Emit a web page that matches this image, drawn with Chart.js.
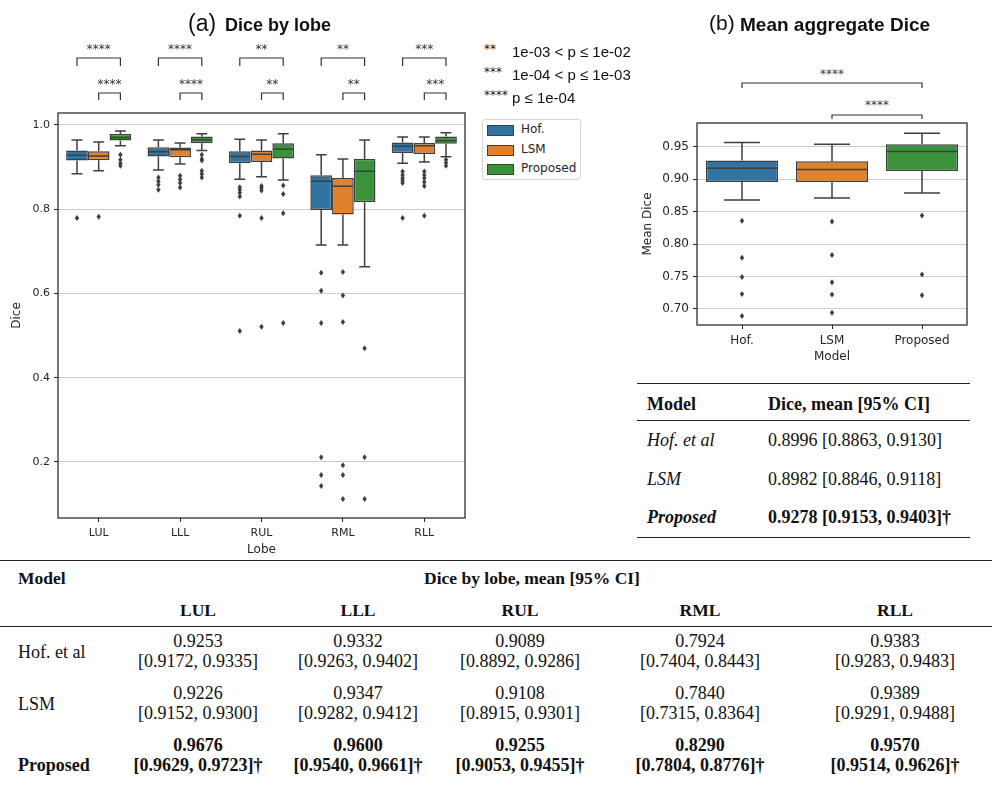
<!DOCTYPE html>
<html>
<head>
<meta charset="utf-8">
<script src="https://cdn.jsdelivr.net/npm/chart.js@4.4.1/dist/chart.umd.min.js"></script>
<style>
    body {margin: 0; background: #fff; width: 992px; height: 789px; position: relative; overflow: hidden; font-family: "Liberation Sans", Arial, sans-serif; color: #111;}
    .txt {position: absolute; white-space: nowrap; line-height: 1.15; color: #111;}
    .rule {position: absolute; height: 0; border-top: 1.4px solid #222;}
    #wrapA {position: absolute; left: 0; top: 0; width: 470px; height: 562px;}
    #wrapB {position: absolute; left: 620px; top: 0; width: 372px; height: 375px;}
    #legend {position: absolute; left: 482px; top: 119px; width: 97px; height: 59px; border: 1px solid #d6d6d6; border-radius: 3px; font-family: "DejaVu Sans", sans-serif; font-size: 12px; color: #262626;}
    .patch {position: absolute; left: 4px; width: 25px; height: 9px; border: 1px solid #3f3f3f;}
</style>
</head>
<body>
<div id="wrapA"><canvas id="chartA"></canvas></div>
<div id="wrapB"><canvas id="chartB"></canvas></div>
<div id="legend"></div>
<div id="texts"></div>
<script>
const lobes = ['LUL', 'LLL', 'RUL', 'RML', 'RLL'];
const models = ['Hof.', 'LSM', 'Proposed'];
const modelColors = ['#3274a1', '#e1812c', '#3a923a'];
const edgeColor = '#3f3f3f';
const axisColor = '#262626';
const tickFont = '"DejaVu Sans", sans-serif';

// (a) box summaries per lobe
const hofLow = [0.884, 0.893, 0.871, 0.715, 0.909];
const hofQ1 = [0.915, 0.925, 0.909, 0.798, 0.933];
const hofMed = [0.928, 0.936, 0.925, 0.866, 0.949];
const hofQ3 = [0.939, 0.947, 0.937, 0.880, 0.958];
const hofHigh = [0.964, 0.964, 0.966, 0.929, 0.971];
const hofOut = [[0.779], [0.875, 0.866, 0.858, 0.846], [0.852, 0.846, 0.839, 0.830, 0.784, 0.511],
    [0.649, 0.606, 0.530, 0.211, 0.169, 0.143], [0.889, 0.881, 0.874, 0.868, 0.862, 0.779]];

const lsmLow = [0.891, 0.907, 0.877, 0.715, 0.912];
const lsmQ1 = [0.916, 0.923, 0.912, 0.787, 0.931];
const lsmMed = [0.926, 0.941, 0.930, 0.854, 0.950];
const lsmQ3 = [0.937, 0.946, 0.939, 0.874, 0.957];
const lsmHigh = [0.959, 0.957, 0.964, 0.919, 0.971];
const lsmOut = [[0.782], [0.879, 0.870, 0.862, 0.851], [0.855, 0.850, 0.844, 0.779, 0.521],
    [0.651, 0.595, 0.532, 0.192, 0.169, 0.112], [0.889, 0.881, 0.874, 0.864, 0.855, 0.784]];

const propLow = [0.950, 0.939, 0.869, 0.663, 0.924];
const propQ1 = [0.963, 0.956, 0.920, 0.816, 0.955];
const propMed = [0.970, 0.964, 0.942, 0.890, 0.962];
const propQ3 = [0.978, 0.972, 0.956, 0.919, 0.972];
const propHigh = [0.985, 0.979, 0.979, 0.964, 0.981];
const propOut = [[0.929, 0.917, 0.909, 0.903], [0.929, 0.919, 0.915, 0.891, 0.883, 0.875],
    [0.856, 0.836, 0.790, 0.530], [0.470, 0.211, 0.112], [0.917, 0.910, 0.903]];

const starsHofVsProp = ['****', '****', '**', '**', '***'];
const starsLsmVsProp = ['****', '****', '**', '**', '***'];
const yTicksA = [0.2, 0.4, 0.6, 0.8, 1.0];

// (b) mean aggregate Dice
const aggLow = [0.868, 0.871, 0.879];
const aggQ1 = [0.896, 0.896, 0.913];
const aggMed = [0.917, 0.915, 0.943];
const aggQ3 = [0.929, 0.928, 0.954];
const aggHigh = [0.957, 0.954, 0.971];
const aggOut = [[0.836, 0.779, 0.749, 0.723, 0.689], [0.835, 0.783, 0.741, 0.722, 0.694], [0.844, 0.753, 0.721]];
const aggStars = ['****', '****'];
const yTicksB = [0.70, 0.75, 0.80, 0.85, 0.90, 0.95];

// tables
const pLegend = [['**', '1e-03 < p \u2264 1e-02'], ['***', '1e-04 < p \u2264 1e-03'], ['****', 'p \u2264 1e-04']];
const aggRowNames = ['Hof. et al', 'LSM', 'Proposed'];
const aggRowValues = ['0.8996 [0.8863, 0.9130]', '0.8982 [0.8846, 0.9118]', '0.9278 [0.9153, 0.9403]\u2020'];
const lobeRowNames = ['Hof. et al', 'LSM', 'Proposed'];
const hofLobeMean = ['0.9253', '0.9332', '0.9089', '0.7924', '0.9383'];
const hofLobeCI = ['[0.9172, 0.9335]', '[0.9263, 0.9402]', '[0.8892, 0.9286]', '[0.7404, 0.8443]', '[0.9283, 0.9483]'];
const lsmLobeMean = ['0.9226', '0.9347', '0.9108', '0.7840', '0.9389'];
const lsmLobeCI = ['[0.9152, 0.9300]', '[0.9282, 0.9412]', '[0.8915, 0.9301]', '[0.7315, 0.8364]', '[0.9291, 0.9488]'];
const propLobeMean = ['0.9676', '0.9600', '0.9255', '0.8290', '0.9570'];
const propLobeCI = ['[0.9629, 0.9723]\u2020', '[0.9540, 0.9661]\u2020', '[0.9053, 0.9455]\u2020', '[0.7804, 0.8776]\u2020', '[0.9514, 0.9626]\u2020'];

const statsA = [
    {low: hofLow, q1: hofQ1, med: hofMed, q3: hofQ3, high: hofHigh, out: hofOut},
    {low: lsmLow, q1: lsmQ1, med: lsmMed, q3: lsmQ3, high: lsmHigh, out: lsmOut},
    {low: propLow, q1: propQ1, med: propMed, q3: propQ3, high: propHigh, out: propOut},
];

// whiskers, medians and outliers on top of the floating bars
function makeBoxPlugin(getStats) {
    return {
        id: 'boxes',
        afterDatasetsDraw(chart) {
            const ctx = chart.ctx;
            const y = chart.scales.y;
            ctx.save();
            ctx.strokeStyle = edgeColor;
            ctx.fillStyle = edgeColor;
            ctx.lineWidth = 1.5;
            chart.data.datasets.forEach((ds, d) => {
                chart.getDatasetMeta(d).data.forEach((bar, i) => {
                    const s = getStats(d, i);
                    const half = bar.width / 2;
                    ctx.beginPath();
                    ctx.moveTo(bar.x, y.getPixelForValue(s.q1));
                    ctx.lineTo(bar.x, y.getPixelForValue(s.low));
                    ctx.moveTo(bar.x, y.getPixelForValue(s.q3));
                    ctx.lineTo(bar.x, y.getPixelForValue(s.high));
                    ctx.moveTo(bar.x - half / 2, y.getPixelForValue(s.low));
                    ctx.lineTo(bar.x + half / 2, y.getPixelForValue(s.low));
                    ctx.moveTo(bar.x - half / 2, y.getPixelForValue(s.high));
                    ctx.lineTo(bar.x + half / 2, y.getPixelForValue(s.high));
                    ctx.moveTo(bar.x - half + 0.75, y.getPixelForValue(s.med));
                    ctx.lineTo(bar.x + half - 0.75, y.getPixelForValue(s.med));
                    ctx.stroke();
                    s.out.forEach(v => {
                        const py = y.getPixelForValue(v);
                        ctx.beginPath();
                        ctx.moveTo(bar.x, py - 3);
                        ctx.lineTo(bar.x + 2.2, py);
                        ctx.lineTo(bar.x, py + 3);
                        ctx.lineTo(bar.x - 2.2, py);
                        ctx.closePath();
                        ctx.fill();
                    });
                });
            });
            ctx.restore();
        }
    };
}

const framePlugin = {
    id: 'frame',
    afterDraw(chart) {
        const {left, top, right, bottom} = chart.chartArea;
        const ctx = chart.ctx;
        ctx.save();
        ctx.strokeStyle = axisColor;
        ctx.lineWidth = 1.25;
        ctx.strokeRect(left, top, right - left, bottom - top);
        ctx.restore();
    }
};

function drawBracket(ctx, x1, x2, yTop, legs, stars, starY) {
    ctx.beginPath();
    ctx.moveTo(x1, yTop + legs);
    ctx.lineTo(x1, yTop);
    ctx.lineTo(x2, yTop);
    ctx.lineTo(x2, yTop + legs);
    ctx.stroke();
    ctx.fillText(stars, (x1 + x2) / 2, starY);
}

function startBrackets(ctx) {
    ctx.save();
    ctx.strokeStyle = '#333';
    ctx.fillStyle = '#333';
    ctx.lineWidth = 1.2;
    ctx.font = '12px "DejaVu Sans", sans-serif';
    ctx.textAlign = 'center';
    ctx.textBaseline = 'middle';
}

const bracketsA = {
    id: 'bracketsA',
    afterDraw(chart) {
        const ctx = chart.ctx;
        const hof = chart.getDatasetMeta(0).data;
        const lsm = chart.getDatasetMeta(1).data;
        const prop = chart.getDatasetMeta(2).data;
        startBrackets(ctx);
        lobes.forEach((l, i) => {
            drawBracket(ctx, hof[i].x, prop[i].x, 58, 8, starsHofVsProp[i], 50);
            drawBracket(ctx, lsm[i].x, prop[i].x, 93, 7, starsLsmVsProp[i], 85);
        });
        ctx.restore();
    }
};

const bracketsB = {
    id: 'bracketsB',
    afterDraw(chart) {
        const ctx = chart.ctx;
        const bars = chart.getDatasetMeta(0).data;
        startBrackets(ctx);
        drawBracket(ctx, bars[0].x, bars[2].x, 83, 5, aggStars[0], 75);
        drawBracket(ctx, bars[1].x, bars[2].x, 115, 4, aggStars[1], 106);
        ctx.restore();
    }
};

function xAxis(title, height, size, titlePad) {
    return {
        type: 'category',
        offset: true,
        grid: {display: true, drawOnChartArea: false, offset: false, tickColor: axisColor, tickLength: 4},
        border: {display: false},
        ticks: {font: {family: tickFont, size: size}, color: axisColor, padding: 5},
        title: {display: true, text: title, color: axisColor, font: {family: tickFont, size: 12}, padding: {top: 0, bottom: titlePad}},
        afterFit: s => { s.height = height; }
    };
}

function yAxis(title, min, max, ticks, digits, width, size, titlePad) {
    return {
        min: min,
        max: max,
        afterBuildTicks: s => { s.ticks = ticks.map(v => ({value: v})); },
        grid: {color: '#cccccc', lineWidth: 1, tickColor: axisColor, tickLength: 4},
        border: {display: false},
        ticks: {font: {family: tickFont, size: size}, color: axisColor, padding: 4, callback: v => v.toFixed(digits)},
        title: {display: true, text: title, color: axisColor, font: {family: tickFont, size: 12}, padding: {top: titlePad, bottom: 0}},
        afterFit: s => { s.width = width; }
    };
}

new Chart(document.getElementById('chartA'), {
    type: 'bar',
    data: {
        labels: lobes,
        datasets: models.map((m, k) => ({
            label: m,
            data: lobes.map((l, i) => [statsA[k].q1[i], statsA[k].q3[i]]),
            backgroundColor: modelColors[k],
            borderColor: edgeColor,
            borderWidth: 1.5,
            borderSkipped: false,
            barPercentage: 1.0,
            categoryPercentage: 0.8,
        })),
    },
    options: {
        responsive: true,
        maintainAspectRatio: false,
        animation: false,
        layout: {padding: {top: 113, right: 5, left: 0, bottom: 0}},
        plugins: {legend: {display: false}, tooltip: {enabled: false}},
        scales: {
            x: xAxis('Lobe', 44, 11, 5),
            y: yAxis('Dice', 0.067, 1.028, yTicksA, 1, 58, 11, 10),
        },
    },
    plugins: [makeBoxPlugin((d, i) => ({low: statsA[d].low[i], q1: statsA[d].q1[i], med: statsA[d].med[i],
        q3: statsA[d].q3[i], high: statsA[d].high[i], out: statsA[d].out[i]})), framePlugin, bracketsA],
});

new Chart(document.getElementById('chartB'), {
    type: 'bar',
    data: {
        labels: models,
        datasets: [{
            data: models.map((m, i) => [aggQ1[i], aggQ3[i]]),
            backgroundColor: modelColors,
            borderColor: edgeColor,
            borderWidth: 1.5,
            borderSkipped: false,
            barPercentage: 0.8,
            categoryPercentage: 1.0,
        }],
    },
    options: {
        responsive: true,
        maintainAspectRatio: false,
        animation: false,
        layout: {padding: {top: 123, right: 25, left: 0, bottom: 0}},
        plugins: {legend: {display: false}, tooltip: {enabled: false}},
        scales: {
            x: xAxis('Model', 50, 12, 11),
            y: yAxis('Mean Dice', 0.675, 0.987, yTicksB, 2, 77, 12, 21),
        },
    },
    plugins: [makeBoxPlugin((d, i) => ({low: aggLow[i], q1: aggQ1[i], med: aggMed[i], q3: aggQ3[i],
        high: aggHigh[i], out: aggOut[i]})), framePlugin, bracketsB],
});

// legend box for (a)
const legendEl = document.getElementById('legend');
models.forEach((m, k) => {
    const p = document.createElement('div');
    p.className = 'patch';
    p.style.top = (5 + k * 19.5) + 'px';
    p.style.background = modelColors[k];
    legendEl.appendChild(p);
    const t = document.createElement('div');
    t.className = 'txt';
    t.style.left = '38px';
    t.style.top = (10 + k * 19.5) + 'px';
    t.style.transform = 'translateY(-50%)';
    t.style.color = axisColor;
    t.textContent = m;
    legendEl.appendChild(t);
});

// text placement helpers
const textsEl = document.getElementById('texts');
function place(text, x, y, style, align) {
    const el = document.createElement('div');
    el.className = 'txt';
    el.textContent = text;
    el.style.left = x + 'px';
    el.style.top = y + 'px';
    el.style.transform = (align === 'center' ? 'translateX(-50%) ' : '') + 'translateY(-50%)';
    Object.assign(el.style, style || {});
    textsEl.appendChild(el);
    return el;
}
function rule(x, y, w, thick) {
    const el = document.createElement('div');
    el.className = 'rule';
    el.style.left = x + 'px';
    el.style.top = y + 'px';
    el.style.width = w + 'px';
    el.style.borderTopWidth = thick + 'px';
    textsEl.appendChild(el);
}

// panel titles
place('(a)', 188, 23, {fontSize: '23px'});
place('Dice by lobe', 225, 25, {fontSize: '18px', fontWeight: 'bold'});
place('(b)', 709, 23, {fontSize: '21px'});
place('Mean aggregate Dice', 740, 25, {fontSize: '19px', fontWeight: 'bold'});

// p-value key
pLegend.forEach((row, r) => {
    place(row[0], 484, 52 + r * 23 - 2, {fontSize: '12px', fontFamily: '"DejaVu Sans", sans-serif', color: '#111'});
    place(row[1], 512, 52 + r * 23, {fontSize: '15px'});
});

// table (b)
const serifB = {fontFamily: '"Liberation Serif", "Times New Roman", serif', fontSize: '18px'};
rule(637, 383, 333, 1.5);
rule(637, 420, 333, 1);
rule(637, 537, 333, 1.5);
place('Model', 647, 404, {...serifB, fontWeight: 'bold'});
place('Dice, mean [95% CI]', 768, 404, {...serifB, fontWeight: 'bold'});
aggRowNames.forEach((name, r) => {
    const last = r === aggRowNames.length - 1;
    place(name, 647, 440 + r * 38.5, {...serifB, fontStyle: 'italic', fontWeight: last ? 'bold' : 'normal'});
    place(aggRowValues[r], 768, 440 + r * 38.5, {...serifB, fontWeight: last ? 'bold' : 'normal'});
});

// table by lobe
const serifT = {fontFamily: '"Liberation Serif", "Times New Roman", serif', fontSize: '18px'};
const colCenters = [198, 358, 520, 700, 895];
rule(0, 560, 992, 1.5);
rule(0, 626, 992, 1.5);
place('Model', 18, 578, {...serifT, fontSize: '17.5px', fontWeight: 'bold'});
place('Dice by lobe, mean [95% CI]', 532, 578, {...serifT, fontSize: '17.5px', fontWeight: 'bold'}, 'center');
lobes.forEach((l, i) => place(l, colCenters[i], 610, {...serifT, fontSize: '17.5px', fontWeight: 'bold'}, 'center'));
const lobeMeans = [hofLobeMean, lsmLobeMean, propLobeMean];
const lobeCIs = [hofLobeCI, lsmLobeCI, propLobeCI];
const rowTops = [641, 693, 745];
lobeRowNames.forEach((name, r) => {
    const bold = r === lobeRowNames.length - 1 ? 'bold' : 'normal';
    place(name, 18, rowTops[r] + (r === 2 ? 20 : 11), {...serifT, fontWeight: bold});
    lobes.forEach((l, i) => {
        place(lobeMeans[r][i], colCenters[i], rowTops[r], {...serifT, fontWeight: bold}, 'center');
        place(lobeCIs[r][i], colCenters[i], rowTops[r] + 20, {...serifT, fontWeight: bold}, 'center');
    });
});
</script>
</body>
</html>
